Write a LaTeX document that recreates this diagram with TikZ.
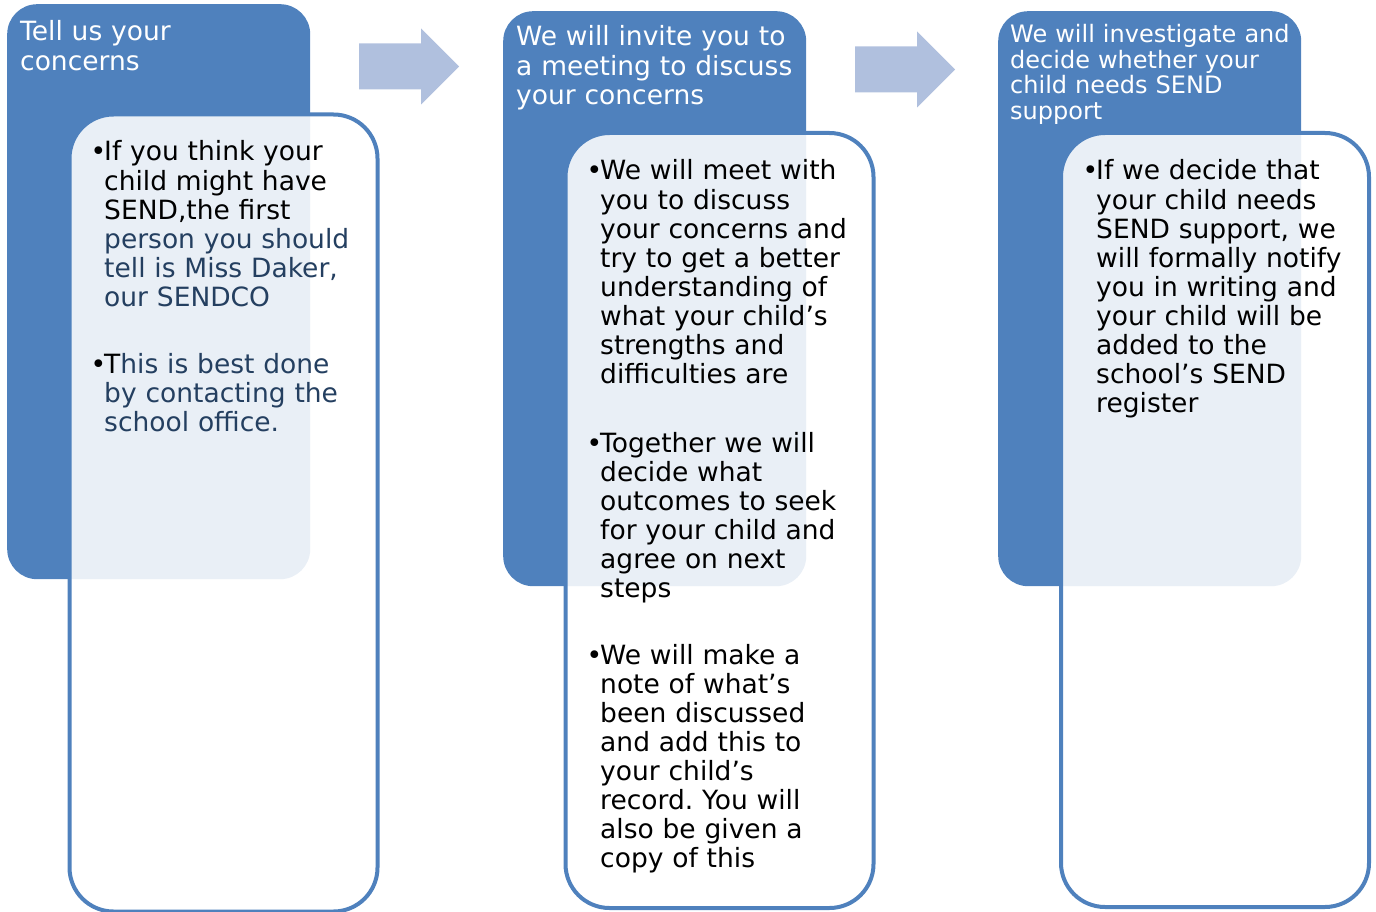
\documentclass[tikz,border=0pt]{standalone}
\usepackage{fontspec}
\setmainfont{DejaVu Sans}
\frenchspacing
\definecolor{boxblue}{RGB}{79,129,189}
\definecolor{arrowblue}{RGB}{176,192,222}
\definecolor{textblue}{RGB}{36,63,96}
\newcommand{\bul}{\llap{\textbullet\kern-2pt}}

\begin{document}
\begin{tikzpicture}[x=1pt,y=-1pt,
    backbox/.style={fill=boxblue,rounded corners=30pt,minimum width=303pt,minimum height=575pt,anchor=north west,inner sep=0},
    frontbox/.style={fill=white,fill opacity=0.88,draw=boxblue,line width=4pt,rounded corners=44pt,minimum width=308pt,anchor=north west,inner sep=0},
    flowarrow/.style={fill=arrowblue},
    title/.style={anchor=base west,inner sep=0,text width=320pt,align=left,text=white,font=\fontsize{26.5}{29.1}\selectfont},
    bodytext/.style={anchor=base west,inner sep=0,text width=300pt,align=left,font=\fontsize{26.5}{29.1}\selectfont}]
  \useasboundingbox (0,0) rectangle (1376,912);

  % the three steps
  \foreach \n/\bx/\by/\wx/\wy/\wh in {1/7/4/67.5/112.5/797, 2/503/11/563.5/131/775, 3/998/11/1059/131/774}{%
    \node[backbox] (back\n) at (\bx,\by) {};
    \node[frontbox,minimum height=\wh pt] (front\n) at (\wx,\wy) {};}

  % arrows between the steps
  \foreach \ax/\ay in {359/66.5, 855/69.5}{%
    \fill[flowarrow] (\ax,\ay-23) -- (\ax+62,\ay-23) -- (\ax+62,\ay-38) -- (\ax+100,\ay)
      -- (\ax+62,\ay+38) -- (\ax+62,\ay+23) -- (\ax,\ay+23) -- cycle;}

  \node[title] (title1) at (20,41) {Tell us your\\concerns};
  \node[title] (title2) at (516,46) {We will invite you to\\a meeting to discuss\\your concerns};
  \node[title,font=\fontsize{24}{25.5}\selectfont] (title3) at (1010,43) {We will investigate and\\decide whether your\\child needs SEND\\support};

  \node[bodytext] (body1a) at (104,161) {\bul If you think your\\child might have\\SEND,the first\\\color{textblue}person you should\\tell is Miss Daker,\\our SENDCO};
  \node[bodytext] (body1b) at (104,373) {\bul T\color{textblue}his is best done\\by contacting the\\school office.};

  \node[bodytext] (body2a) at (600,180) {\bul We will meet with\\you to discuss\\your concerns and\\try to get a better\\understanding of\\what your child’s\\strengths and\\difficulties are};
  \node[bodytext] (body2b) at (600,452) {\bul Together we will\\decide what\\outcomes to seek\\for your child and\\agree on next\\steps};
  \node[bodytext] (body2c) at (600,664) {\bul We will make a\\note of what’s\\been discussed\\and add this to\\your child’s\\record. You will\\also be given a\\copy of this};

  \node[bodytext] (body3a) at (1096,180) {\bul If we decide that\\your child needs\\SEND support, we\\will formally notify\\you in writing and\\your child will be\\added to the\\school’s SEND\\register};
\end{tikzpicture}
\end{document}
